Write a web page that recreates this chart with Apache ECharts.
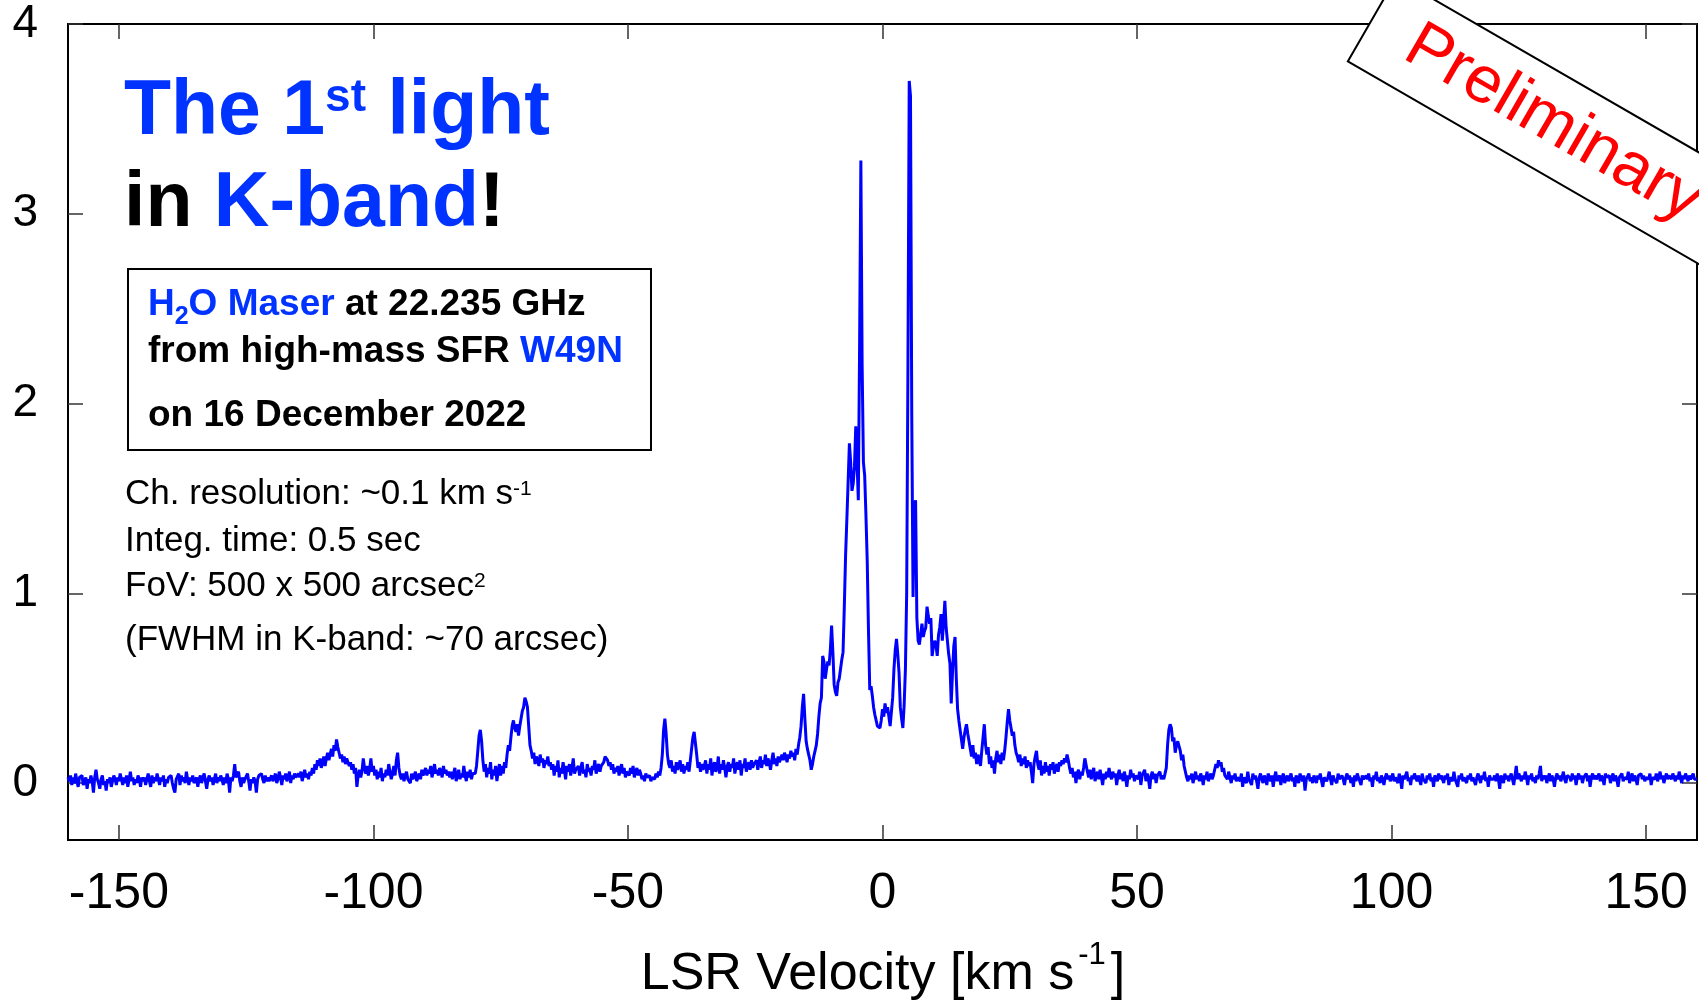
<!DOCTYPE html>
<html>
<head>
<meta charset="utf-8">
<script src="https://cdn.jsdelivr.net/npm/echarts@6/dist/echarts.min.js"></script>
<style>
  html, body { margin: 0; padding: 0; background: #fff; }
  #chart { width: 1699px; height: 1003px; }
</style>
</head>
<body>
<div id="chart"></div>
<script>
// H2O maser spectrum of W49N, K-band first light.
// Channels are evenly spaced in LSR velocity (km/s).
const velStart = -160;
const velStep = 0.25;

// Intensity per channel, 20 channels (5 km/s) per row.
const specNeg160toNeg120 = [
  .03,.01,.04,-.01,.03,.00,.05,.01,-.02,.03,.02,.04,-.01,.01,.03,-.03,.02,.00,.04,.01,
  -.05,.03,.07,.02,.00,-.03,.02,.04,-.01,.01,-.04,.02,.00,.03,-.02,.01,.04,.02,-.01,.03,
  .01,.05,.02,-.01,.03,.00,.04,-.02,.02,.06,.01,.03,-.01,.02,.00,.04,.02,-.02,.03,.01,
  .03,-.01,.02,.05,.01,-.02,.04,.00,.03,.01,.05,.02,-.01,.03,.01,.04,-.02,.02,.00,.03,
  .02,.04,.00,-.03,-.05,.02,.03,.05,-.01,.04,.01,.03,.00,.06,.02,-.01,.03,.01,.04,.00,
  .01,.03,-.02,.02,.04,.00,.03,.05,.01,-.03,.02,.04,.01,.03,-.01,.02,.05,.00,.03,.01,
  .04,.02,-.01,.03,.00,.05,.02,-.05,.03,.01,.04,.10,.03,.02,.06,.01,-.02,.03,.00,.02,
  .03,.05,.01,-.04,.02,.00,.03,.01,-.05,.02,.04,.03,.05,.02,.00,.04,.01,.03,.01,.02
];
const specNeg120toNeg80 = [
  .04,.01,.03,.05,.00,.02,.06,.03,-.01,.04,.02,.05,.01,.03,.06,.00,.04,.02,.05,.03,
  .02,.05,.03,.06,.01,.04,.07,.03,.05,.02,.06,.04,.08,.05,.10,.07,.12,.09,.13,.08,
  .11,.14,.09,.13,.16,.12,.15,.18,.14,.20,.17,.23,.19,.16,.13,.15,.11,.14,.10,.13,
  .12,.09,.11,.07,.10,.05,.08,-.02,.04,.07,.03,.06,.13,.08,.05,.09,.04,.07,.13,.06,
  .09,.04,.07,.02,.06,.03,.08,.01,.05,.03,.07,.04,.10,.06,.02,.05,.09,.04,.12,.16,
  .08,.04,.02,.05,.01,.04,.06,.02,.03,.00,.05,.02,.04,.06,.01,.03,.05,.02,.07,.04,
  .06,.08,.04,.07,.05,.09,.03,.06,.10,.05,.07,.04,.08,.06,.03,.09,.05,.07,.04,.06,
  .03,.06,.02,.05,.08,.01,.04,.07,.02,.05,.03,.09,.04,.01,.06,.03,.07,.02,.05,.04
];
const specNeg80toNeg40 = [
  .05,.09,.17,.25,.28,.22,.12,.06,.10,.03,.08,.05,.11,.02,.07,.04,.09,.01,.06,.10,
  .04,.09,.05,.11,.08,.15,.20,.17,.24,.30,.33,.29,.27,.31,.25,.30,.34,.38,.40,.45,
  .43,.40,.30,.20,.17,.13,.16,.10,.14,.12,.09,.15,.11,.13,.08,.12,.10,.14,.09,.11,
  .07,.10,.04,.09,.06,.12,.03,.08,.05,.11,.07,.02,.09,.06,.10,.04,.08,.13,.05,.07,
  .06,.09,.04,.08,.11,.05,.07,.03,.10,.06,.08,.04,.09,.07,.12,.05,.08,.10,.06,.09,
  .08,.11,.14,.15,.12,.09,.11,.07,.10,.05,.08,.06,.09,.04,.07,.10,.05,.08,.03,.06,
  .07,.04,.08,.05,.09,.03,.06,.08,.04,.07,.05,.02,.04,.01,.05,.03,.02,.04,.01,.03,
  .04,.02,.05,.03,.06,.04,.08,.15,.28,.34,.26,.15,.10,.08,.12,.06,.09,.05,.11,.07
];
const specNeg40toZero = [
  .08,.12,.06,.10,.05,.09,.07,.11,.06,.12,.18,.24,.27,.21,.15,.08,.11,.06,.10,.07,
  .09,.12,.05,.10,.07,.13,.04,.09,.11,.06,.08,.14,.05,.10,.07,.12,.08,.03,.09,.11,
  .06,.10,.08,.13,.05,.09,.11,.07,.12,.04,.10,.08,.13,.06,.09,.11,.07,.12,.08,.10,
  .09,.12,.07,.11,.14,.08,.12,.10,.15,.09,.13,.11,.07,.12,.16,.10,.13,.09,.14,.11,
  .13,.15,.12,.16,.14,.11,.15,.13,.17,.14,.16,.12,.18,.15,.20,.24,.30,.40,.47,.34,
  .22,.18,.15,.12,.07,.10,.14,.17,.20,.26,.35,.42,.45,.67,.64,.55,.60,.64,.62,.70,
  .83,.69,.52,.48,.46,.53,.55,.60,.65,.69,.93,1.20,1.39,1.38,1.79,1.69,1.54,1.58,1.67,1.88,
  1.69,1.49,2.30,3.28,2.20,1.69,1.62,1.41,1.17,.80,.49,.51,.46,.40,.36,.33,.30,.31,.29,.33
];
const specZeroTo40 = [
  .39,.35,.42,.37,.40,.35,.30,.30,.45,.60,.70,.76,.68,.58,.40,.34,.29,.41,.60,1.00,
  2.20,3.70,3.62,1.93,.98,1.46,1.49,.87,.75,.73,.73,.84,.77,.80,.82,.93,.88,.84,.87,.67,
  .72,.75,.73,.67,.78,.82,.89,.75,.85,.96,.82,.75,.68,.63,.42,.58,.72,.77,.55,.39,
  .33,.28,.23,.18,.24,.28,.31,.26,.22,.18,.14,.20,.13,.16,.10,.15,.12,.09,.17,.24,
  .31,.20,.15,.19,.10,.14,.08,.12,.05,.13,.17,.11,.15,.10,.16,.12,.17,.24,.32,.39,
  .33,.29,.25,.27,.20,.16,.14,.11,.15,.09,.13,.10,.14,.08,.12,.09,.11,.06,.00,.10,
  .14,.17,.10,.07,.12,.04,.09,.05,.11,.06,.09,.04,.10,.07,.11,.05,.08,.10,.06,.11,
  .09,.12,.10,.13,.11,.15,.12,.08,.05,.08,.03,.06,.00,.05,.07,.02,.06,.04,.08,.13
];
const spec40to80 = [
  .14,.06,.03,.07,.02,.05,.08,.01,.04,.06,.02,.07,.03,-.01,.05,.02,.06,.03,.08,.04,
  .02,.06,.03,.05,-.01,.04,.07,.02,.05,.01,.06,.03,-.02,.04,.02,.07,.03,.05,.01,.04,
  .05,.02,.06,-.01,.04,.03,.07,.01,.05,.02,-.03,.04,.06,.02,.05,.00,.04,.03,.06,.02,
  .04,.02,.05,.08,.20,.28,.31,.29,.22,.24,.16,.20,.22,.21,.17,.12,.15,.09,.08,.03,
  .01,.04,.02,.05,.00,.03,.06,.02,.04,.01,.05,.03,-.01,.04,.02,.06,.01,.03,.05,.02,
  .04,.07,.10,.08,.12,.09,.11,.06,.08,.04,.05,.02,.06,.03,.00,.04,.02,.05,.01,.03,
  .03,.01,.05,-.02,.03,.04,.00,.06,.02,.03,-.01,.05,.02,.04,.01,-.03,.03,.05,.02,.00,
  .04,.02,-.01,.05,.03,.01,.04,-.02,.03,.06,.01,.02,.04,-.01,.03,.05,.00,.02,.04,.01
];
const spec80to120 = [
  .02,.05,.01,.03,-.02,.04,.02,.00,.05,.03,.01,.04,-.04,.02,.03,.05,.01,.03,.00,.04,
  .03,.00,.04,.02,.05,.01,-.02,.03,.04,.01,.03,.06,.02,-.01,.04,.02,.03,.00,.05,.02,
  .01,.04,.02,-.01,.03,.05,.02,.04,.00,.03,-.02,.04,.01,.05,.03,.02,-.01,.04,.02,.03,
  .04,.02,.05,.01,.03,-.02,.04,.02,.06,.01,.03,.00,.04,.02,-.01,.03,.05,.02,.04,.01,
  .02,.05,.01,.03,.04,.00,.05,.02,-.03,.04,.02,.03,.06,.01,.03,-.01,.04,.02,.05,.03,
  .01,.04,.03,-.01,.05,.02,.03,.00,.04,.02,.05,.01,.03,-.02,.04,.03,.01,.05,.02,.04,
  .03,.00,.04,.02,.05,-.01,.03,.04,.01,.06,.02,.03,-.02,.04,.02,.05,.01,.03,.04,.00,
  .04,.02,.05,.01,.03,.04,-.01,.03,.05,.02,.00,.04,.02,.06,.01,.03,-.02,.04,.02,.03
];
const spec120to160 = [
  .02,.04,.01,.05,.02,-.03,.04,.03,.00,.05,.02,.04,.01,.03,.05,.02,-.01,.04,.09,.02,
  .05,.03,.01,.04,.02,.06,.03,-.01,.04,.02,.05,.01,.03,.00,.04,.02,.05,.09,.01,.04,
  .02,.04,.00,.03,.05,.01,.04,.02,-.02,.03,.05,.02,.04,.01,.03,.06,.02,.00,.04,.03,
  .03,.01,.05,.02,.04,-.01,.03,.05,.02,.04,.00,.03,.02,.05,.01,.04,-.02,.03,.05,.02,
  .04,.02,.03,.05,.01,.04,.02,-.01,.05,.03,.02,.04,.00,.03,.05,.01,.04,.02,-.02,.03,
  .02,.05,.01,.03,.04,.02,.06,.00,.03,.05,.01,.04,.02,-.01,.04,.03,.05,.02,.04,.01,
  .03,.04,.02,.05,-.01,.03,.04,.02,.05,.01,.03,.06,.02,.04,.00,.03,.05,.02,.04,.03,
  .02,.05,.03,.01,.04,.02,.06,.03,.00,.04,.02,.05,.03,.01,.04,.02,.03,.05,.02,.03,
  .02
];

const xTickValues = [-150, -100, -50, 0, 50, 100, 150];
const yTickValues = [0, 1, 2, 3, 4];

const intensity = [].concat(
  specNeg160toNeg120, specNeg120toNeg80, specNeg80toNeg40, specNeg40toZero,
  specZeroTo40, spec40to80, spec80to120, spec120to160
);
const spectrum = intensity.map((t, i) => [velStart + i * velStep, t]);

const FONT = '"Liberation Sans", Arial, Helvetica, sans-serif';
const BLUE = '#0033ff';
const measureCtx = document.createElement('canvas').getContext('2d');
const MID = 0.33; // distance from 'middle' to alphabetic baseline, in em

// Lay out a line made of styled pieces on a common baseline.
// piece: [text, sizePx, weight, color, baselineShift, extraGapBefore]
function textLine(x0, baseline, pieces, anchor) {
  const runs = pieces.map(([t, size, weight, color, shift, gap]) => {
    const font = `${weight} ${size}px ${FONT}`;
    measureCtx.font = font;
    return { t, size, font, color, shift: shift || 0, gap: gap || 0,
             w: measureCtx.measureText(t).width };
  });
  const total = runs.reduce((s, r) => s + r.w + r.gap, 0);
  let x = anchor === 'center' ? x0 - total / 2 : x0;
  return runs.map(r => {
    x += r.gap;
    const el = {
      type: 'text', z: 20, x: x, y: baseline + r.shift - MID * r.size,
      style: {
        text: r.t, font: r.font, fill: r.color,
        align: 'left', verticalAlign: 'middle',
        textAlign: 'left', textVerticalAlign: 'middle'
      }
    };
    x += r.w;
    return el;
  });
}

const graphics = [].concat(
  textLine(124, 138, [
    ['The 1', 77, 'bold', BLUE], ['st', 46, 'bold', BLUE, -25], [' light', 77, 'bold', BLUE]
  ]),
  textLine(124, 230, [
    ['in ', 77, 'bold', '#000'], ['K-band', 77, 'bold', BLUE], ['!', 77, 'bold', '#000']
  ]),
  [{
    type: 'rect', z: 20,
    shape: { x: 128, y: 269, width: 523, height: 181 },
    style: { fill: 'rgba(0,0,0,0)', stroke: '#000', lineWidth: 2 }
  }],
  textLine(148, 317, [
    ['H', 37, 'bold', BLUE], ['2', 25, 'bold', BLUE, 8], ['O Maser', 37, 'bold', BLUE],
    [' at 22.235 GHz', 37, 'bold', '#000']
  ]),
  textLine(148, 364, [
    ['from high-mass SFR ', 37, 'bold', '#000'], ['W49N', 37, 'bold', BLUE]
  ]),
  textLine(148, 428, [['on 16 December 2022', 37, 'bold', '#000']]),
  textLine(125, 506, [
    ['Ch. resolution: ~0.1 km s', 35, 'normal', '#000'], ['-1', 21, 'normal', '#000', -10]
  ]),
  textLine(125, 553, [['Integ. time: 0.5 sec', 35, 'normal', '#000']]),
  textLine(125, 598, [
    ['FoV: 500 x 500 arcsec', 35, 'normal', '#000'], ['2', 21, 'normal', '#000', -10]
  ]),
  textLine(125, 652, [['(FWHM in K-band: ~70 arcsec)', 35, 'normal', '#000']]),
  textLine(883, 992, [
    ['LSR Velocity [km s', 52, 'normal', '#000'], ['-1', 31, 'normal', '#000', -26, 4],
    [']', 52, 'normal', '#000', 0, 5]
  ], 'center'),
  [{
    type: 'group', x: 1553, y: 124, rotation: -Math.PI / 6, z: 30,
    children: [
      {
        type: 'rect', z: 30,
        shape: { x: -209, y: -48.3, width: 640, height: 96.6 },
        style: { fill: '#fff', stroke: '#000', lineWidth: 2 }
      },
      {
        type: 'text', z: 31, x: 0, y: 0,
        style: {
          text: 'Preliminary', font: `66px ${FONT}`, fill: '#ff0000',
          align: 'center', verticalAlign: 'middle',
          textAlign: 'center', textVerticalAlign: 'middle'
        }
      }
    ]
  }]
);

const tickStyle = { color: '#333', width: 1.5 };
const hiddenLine = { show: false, onZero: false };
const chart = echarts.init(document.getElementById('chart'), null, { renderer: 'canvas' });
chart.setOption({
  animation: false,
  backgroundColor: '#fff',
  grid: {
    left: 68, right: 2, top: 24, bottom: 163,
    show: true, borderColor: '#000', borderWidth: 2, backgroundColor: 'transparent'
  },
  xAxis: [
    {
      type: 'value', min: -160, max: 160, position: 'bottom',
      axisLine: hiddenLine,
      splitLine: { show: false },
      axisTick: { inside: true, length: 15, customValues: xTickValues, lineStyle: tickStyle },
      axisLabel: {
        customValues: xTickValues, margin: 29, fontSize: 50, color: '#000',
        fontFamily: FONT
      }
    },
    {
      type: 'value', min: -160, max: 160, position: 'top',
      axisLine: hiddenLine,
      splitLine: { show: false },
      axisTick: { inside: true, length: 15, customValues: xTickValues, lineStyle: tickStyle },
      axisLabel: { show: false }
    }
  ],
  yAxis: [
    {
      type: 'value', min: -0.3, max: 4, position: 'left',
      axisLine: hiddenLine,
      splitLine: { show: false },
      axisTick: { inside: true, length: 15, customValues: yTickValues, lineStyle: tickStyle },
      axisLabel: {
        customValues: yTickValues, margin: 30, fontSize: 46, color: '#000',
        fontFamily: FONT
      }
    },
    {
      type: 'value', min: -0.3, max: 4, position: 'right',
      axisLine: hiddenLine,
      splitLine: { show: false },
      axisTick: { inside: true, length: 15, customValues: yTickValues, lineStyle: tickStyle },
      axisLabel: { show: false }
    }
  ],
  series: [{
    type: 'line',
    xAxisIndex: 0, yAxisIndex: 0,
    data: spectrum,
    showSymbol: false,
    symbol: 'none',
    silent: true,
    clip: true,
    lineStyle: { color: '#0000ff', width: 3 }
  }],
  graphic: graphics
});
</script>
</body>
</html>
